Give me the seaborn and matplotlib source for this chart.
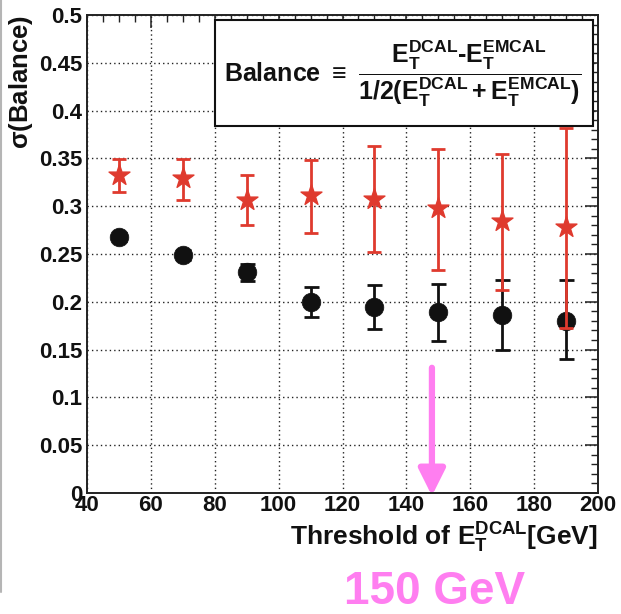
import numpy as np
import pandas as pd
import matplotlib
matplotlib.use("Agg")
import matplotlib.pyplot as plt
import seaborn as sns
from matplotlib.ticker import MultipleLocator, FixedLocator, FixedFormatter
from matplotlib.patches import Rectangle
from matplotlib.lines import Line2D

# Threshold values (GeV)
thresholds = [50, 70, 90, 110, 130, 150, 170, 190]

# Red stars: sigma(Balance) with lower / upper error-bar ends
red_sigma = [0.333, 0.329, 0.307, 0.312, 0.308, 0.298, 0.284, 0.278]
red_low = [0.315, 0.306, 0.280, 0.272, 0.252, 0.233, 0.212, 0.173]
red_high = [0.349, 0.349, 0.333, 0.348, 0.363, 0.360, 0.355, 0.382]

# Black circles: sigma(Balance) with lower / upper error-bar ends
black_sigma = [0.268, 0.249, 0.231, 0.200, 0.195, 0.189, 0.186, 0.180]
black_low = [0.264, 0.244, 0.222, 0.184, 0.1715, 0.159, 0.150, 0.140]
black_high = [0.272, 0.254, 0.240, 0.216, 0.218, 0.219, 0.2225, 0.2225]

x_ticks = [40, 60, 80, 100, 120, 140, 160, 180, 200]
x_tick_labels = ["40", "60", "80", "100", "120", "140", "160", "180", "200"]
y_ticks = [0, 0.05, 0.1, 0.15, 0.2, 0.25, 0.3, 0.35, 0.4, 0.45, 0.5]
y_tick_labels = ["0", "0.05", "0.1", "0.15", "0.2", "0.25", "0.3", "0.35", "0.4", "0.45", "0.5"]

marker_threshold = 148
marker_text = "150 GeV"

RED = "#df3a2e"
BLACK = "#111111"
PINK = "#ff7ef0"

sns.set_theme(style="white")
plt.rcParams["font.family"] = ["Liberation Sans", "DejaVu Sans"]
plt.rcParams["font.weight"] = "bold"
plt.rcParams["mathtext.fontset"] = "custom"
plt.rcParams["mathtext.rm"] = "Liberation Sans:bold"
plt.rcParams["mathtext.it"] = "Liberation Sans:bold"
plt.rcParams["mathtext.bf"] = "Liberation Sans:bold"
plt.rcParams["mathtext.sf"] = "Liberation Sans:bold"

fig = plt.figure(figsize=(6.21, 6.14), dpi=100)
ax = fig.add_axes([87 / 621, 121 / 614, 511 / 621, 478 / 614])
ax.set_facecolor("white")

df_red = pd.DataFrame({"threshold": thresholds, "sigma": red_sigma,
                       "low": red_low, "high": red_high})
df_black = pd.DataFrame({"threshold": thresholds, "sigma": black_sigma,
                         "low": black_low, "high": black_high})

# Black series: error bars then circles
ax.errorbar(df_black["threshold"], df_black["sigma"],
            yerr=[df_black["sigma"] - df_black["low"], df_black["high"] - df_black["sigma"]],
            fmt="none", ecolor=BLACK, elinewidth=2.0, capsize=5.4, capthick=2.0, zorder=3)
sns.scatterplot(data=df_black, x="threshold", y="sigma", marker="o", s=180,
                color=BLACK, edgecolor=BLACK, linewidth=0.5, ax=ax, zorder=4, legend=False)

# Red series: error bars then stars
ax.errorbar(df_red["threshold"], df_red["sigma"],
            yerr=[df_red["sigma"] - df_red["low"], df_red["high"] - df_red["sigma"]],
            fmt="none", ecolor=RED, elinewidth=2.0, capsize=4.7, capthick=2.0, zorder=5)
sns.scatterplot(data=df_red, x="threshold", y="sigma", marker="*", s=250,
                color=RED, edgecolor=RED, linewidth=1.0, ax=ax, zorder=6, legend=False)

ax.set_xlim(40, 200)
ax.set_ylim(0, 0.5)
ax.xaxis.set_major_locator(FixedLocator(x_ticks))
ax.xaxis.set_major_formatter(FixedFormatter(x_tick_labels))
ax.yaxis.set_major_locator(FixedLocator(y_ticks))
ax.yaxis.set_major_formatter(FixedFormatter(y_tick_labels))
ax.xaxis.set_minor_locator(MultipleLocator(5))
ax.yaxis.set_minor_locator(MultipleLocator(0.01))

ax.grid(True, which="major", color="#222222", linestyle=(0, (1, 2.2)), linewidth=1.0, zorder=0)
ax.set_axisbelow(True)

ax.tick_params(which="both", direction="in", top=True, right=True, color="#222222")
ax.tick_params(which="major", length=9.5, width=1.1, labelsize=16, pad=1.5)
ax.tick_params(which="minor", length=5.2, width=1.0)
ax.tick_params(axis="y", which="major", pad=3.5)
for lab in ax.get_xticklabels() + ax.get_yticklabels():
    lab.set_fontweight("bold")
    lab.set_color("#111111")
for sp in ax.spines.values():
    sp.set_color("#222222")
    sp.set_linewidth(1.4)

ax.set_xlabel(r"Threshold of $\mathrm{E_T^{DCAL}}$[GeV]", fontsize=19,
              fontweight="bold", loc="right", color="#111111")
ax.xaxis.set_label_coords(1.0, -0.058)
ax.set_ylabel(r"$\sigma$(Balance)", fontsize=18.5, fontweight="bold",
              loc="top", color="#111111")
ax.yaxis.set_label_coords(-0.102, 1.0)

# Definition box
ax.add_patch(Rectangle((0.25, 0.768), 0.74, 0.222, transform=ax.transAxes,
                       facecolor="white", edgecolor="#111111", linewidth=1.5, zorder=7))
ax.text(0.617, 0.878,
        r"$\mathrm{Balance}\ \equiv\ \dfrac{\mathrm{E_T^{DCAL}\text{-}E_T^{EMCAL}}}"
        r"{\mathrm{1/2(E_T^{DCAL}+E_T^{EMCAL})}}$",
        transform=ax.transAxes, ha="center", va="center", fontsize=18,
        color="#111111", zorder=8)

# Threshold marker arrow and label
ax.annotate("", xy=(marker_threshold, -0.003), xytext=(marker_threshold, 0.131),
            xycoords="data", textcoords="data", annotation_clip=False,
            arrowprops=dict(arrowstyle="-|>,head_length=0.8,head_width=0.4",
                            mutation_scale=20, lw=4.5, color=PINK,
                            shrinkA=0, shrinkB=0), zorder=9)
fig.text(434.5 / 621, (614 - 592) / 614, marker_text, ha="center", va="center",
         fontsize=33, fontweight="bold", color=PINK)

# Thin grey edge on the left side of the page
fig.add_artist(Line2D([0.002, 0.002], [(614 - 592) / 614, 1.0], transform=fig.transFigure,
                      color="#b5b5b5", linewidth=1.5))

fig.savefig("out.png", dpi=100, facecolor="white")
